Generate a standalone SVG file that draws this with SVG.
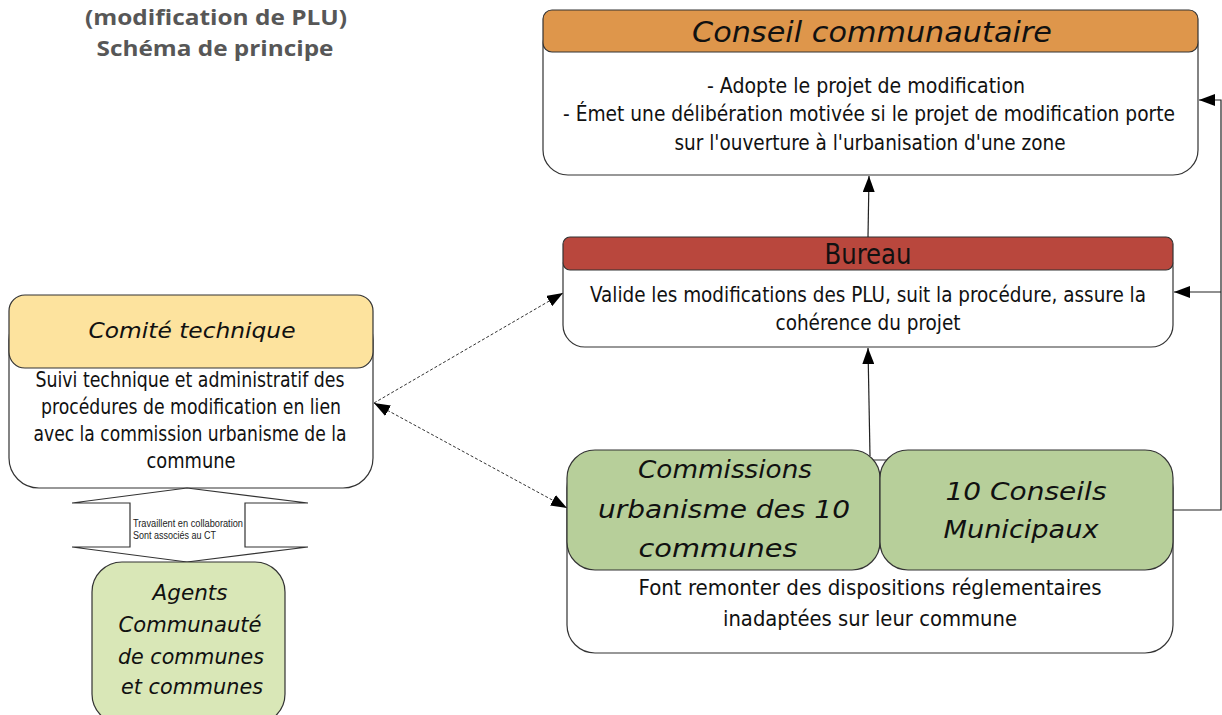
<svg xmlns="http://www.w3.org/2000/svg" width="1222" height="715" viewBox="0 0 1222 715">
<defs>
<marker id="arr" viewBox="0 0 16 12" refX="16" refY="6" markerWidth="16" markerHeight="12" markerUnits="userSpaceOnUse" orient="auto-start-reverse">
<path d="M0,0 L16,6 L0,12 z" fill="#000"/>
</marker>
<style>
.box{stroke:#333;stroke-width:1.2}
.body{font-family:"Liberation Sans Narrow","DejaVu Sans Condensed","DejaVu Sans",sans-serif;font-stretch:condensed;fill:#111;text-anchor:middle}
.hand{font-family:"DejaVu Sans","Noto Sans",sans-serif;font-style:italic;fill:#111;text-anchor:middle}
.title{font-family:"Open Sans","Liberation Sans",sans-serif;font-weight:bold;fill:#575757;font-size:22px;text-anchor:middle}
.conn{stroke:#222;stroke-width:1.2;fill:none}
.dash{stroke:#333;stroke-width:1;stroke-dasharray:3,2;fill:none}
</style>
</defs>
<rect width="1222" height="715" fill="#fff"/>

<g id="title">
<text class="title" x="216" y="25" textLength="262" lengthAdjust="spacingAndGlyphs">(modification de PLU)</text>
<text class="title" x="215" y="56" textLength="237" lengthAdjust="spacingAndGlyphs">Schéma de principe</text>
</g>

<g id="conseil">
<rect class="box" x="543" y="20" width="655" height="155" rx="25" fill="#fff"/>
<rect class="box" x="543" y="10" width="655" height="42" rx="9" fill="#DE964B"/>
<text class="hand" x="872" y="42" font-size="28" textLength="360" lengthAdjust="spacingAndGlyphs">Conseil communautaire</text>
<text class="body" x="866" y="93" font-size="22" textLength="318" lengthAdjust="spacingAndGlyphs">- Adopte le projet de modification</text>
<text class="body" x="869" y="121" font-size="22" textLength="612" lengthAdjust="spacingAndGlyphs">- Émet une délibération motivée si le projet de modification porte</text>
<text class="body" x="870" y="150" font-size="22" textLength="391" lengthAdjust="spacingAndGlyphs">sur l'ouverture à l'urbanisation d'une zone</text>
</g>

<g id="bureau">
<rect class="box" x="563" y="245" width="610" height="102" rx="22" fill="#fff"/>
<rect class="box" x="563" y="237" width="610" height="33" rx="7" fill="#B9473D"/>
<text class="body" x="868" y="264" font-size="28" textLength="87" lengthAdjust="spacingAndGlyphs">Bureau</text>
<text class="body" x="868" y="302" font-size="22" textLength="556" lengthAdjust="spacingAndGlyphs">Valide les modifications des PLU, suit la procédure, assure la</text>
<text class="body" x="868" y="330" font-size="22" textLength="185" lengthAdjust="spacingAndGlyphs">cohérence du projet</text>
</g>

<g id="comite">
<rect class="box" x="9" y="310" width="364" height="178" rx="30" fill="#fff"/>
<rect class="box" x="9" y="295" width="364" height="73" rx="16" fill="#FDE39E"/>
<text class="hand" x="192" y="338" font-size="22" textLength="207" lengthAdjust="spacingAndGlyphs">Comité technique</text>
<text class="body" x="190" y="387" font-size="22" textLength="309" lengthAdjust="spacingAndGlyphs">Suivi technique et administratif des</text>
<text class="body" x="191" y="414" font-size="22" textLength="300" lengthAdjust="spacingAndGlyphs">procédures de modification en lien</text>
<text class="body" x="190" y="441" font-size="22" textLength="313" lengthAdjust="spacingAndGlyphs">avec la commission urbanisme de la</text>
<text class="body" x="191" y="468" font-size="22" textLength="89" lengthAdjust="spacingAndGlyphs">commune</text>
</g>

<g id="collaboration">
<path class="box" d="M187,488 L308,503 L245,503 L245,547 L308,547 L187,562 L72,547 L130,547 L130,503 L72,503 Z" fill="#fff" stroke-width="1"/>
<text x="133" y="527" font-family="Liberation Sans, Arial, sans-serif" font-size="10" fill="#222" textLength="110" lengthAdjust="spacingAndGlyphs">Travaillent en collaboration</text>
<text x="133" y="539" font-family="Liberation Sans, Arial, sans-serif" font-size="10" fill="#222" textLength="83" lengthAdjust="spacingAndGlyphs">Sont associés au CT</text>
</g>

<g id="agents">
<rect class="box" x="92" y="562" width="193" height="162" rx="30" fill="#D9E7B7"/>
<text class="hand" x="190" y="600" font-size="22" textLength="75" lengthAdjust="spacingAndGlyphs">Agents</text>
<text class="hand" x="190" y="632" font-size="22" textLength="143" lengthAdjust="spacingAndGlyphs">Communauté</text>
<text class="hand" x="191" y="664" font-size="22" textLength="146" lengthAdjust="spacingAndGlyphs">de communes</text>
<text class="hand" x="192" y="694" font-size="22" textLength="142" lengthAdjust="spacingAndGlyphs">et communes</text>
</g>

<g id="communes">
<rect class="box" x="567" y="460" width="606" height="193" rx="28" fill="#fff"/>
<g id="commissions">
<rect class="box" x="567" y="450" width="313" height="120" rx="28" fill="#B7CF9A"/>
<text class="hand" x="725" y="478" font-size="25" textLength="174" lengthAdjust="spacingAndGlyphs">Commissions</text>
<text class="hand" x="724" y="518" font-size="25" textLength="252" lengthAdjust="spacingAndGlyphs">urbanisme des 10</text>
<text class="hand" x="718" y="557" font-size="25" textLength="159" lengthAdjust="spacingAndGlyphs">communes</text>
</g>
<g id="conseils-municipaux">
<rect class="box" x="880" y="450" width="293" height="120" rx="28" fill="#B7CF9A"/>
<text class="hand" x="1026" y="500" font-size="25" textLength="161" lengthAdjust="spacingAndGlyphs">10 Conseils</text>
<text class="hand" x="1021" y="538" font-size="25" textLength="155" lengthAdjust="spacingAndGlyphs">Municipaux</text>
</g>
<text class="body" x="870" y="595" font-size="22" textLength="463" lengthAdjust="spacingAndGlyphs">Font remonter des dispositions réglementaires</text>
<text class="body" x="870" y="626" font-size="22" textLength="294" lengthAdjust="spacingAndGlyphs">inadaptées sur leur commune</text>
</g>

<g id="connectors">
<line class="conn" x1="868" y1="237" x2="869" y2="176" marker-end="url(#arr)"/>
<line class="conn" x1="870" y1="456" x2="868" y2="348" marker-end="url(#arr)"/>
<polyline class="conn" points="1173,510 1221,510 1221,100 1199,100" marker-end="url(#arr)"/>
<line class="conn" x1="1221" y1="292" x2="1174" y2="292" marker-end="url(#arr)"/>
<line class="dash" x1="374" y1="403" x2="563" y2="293" marker-end="url(#arr)"/>
<line class="dash" x1="374" y1="403" x2="567" y2="508" marker-start="url(#arr)" marker-end="url(#arr)"/>
</g>
</svg>
